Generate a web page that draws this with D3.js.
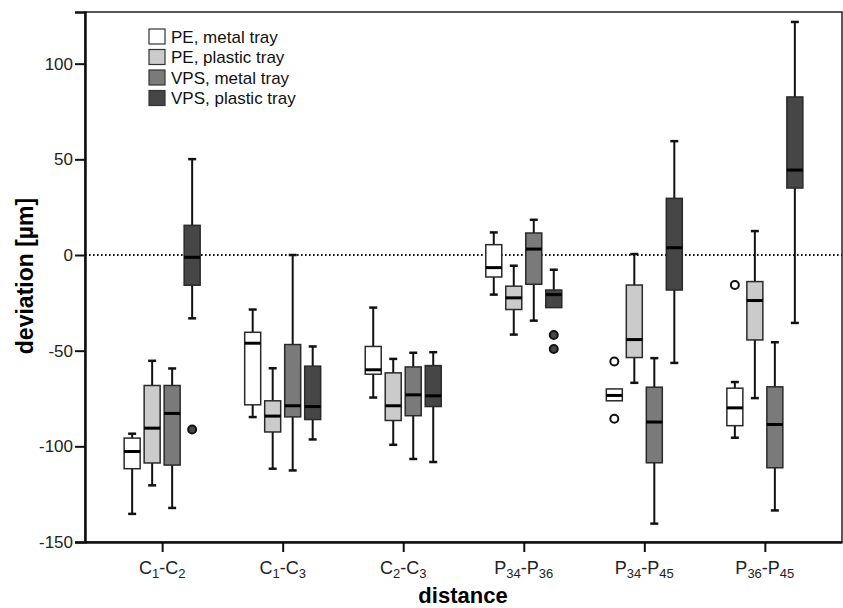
<!DOCTYPE html>
<html>
<head>
<meta charset="utf-8">
<script src="https://cdn.jsdelivr.net/npm/d3@7"></script>
<style>
body { margin: 0; background: #fff; }
text { font-family: Arial, "Liberation Sans", sans-serif; }
</style>
</head>
<body>
<svg width="843" height="608"></svg>
<script>
var svg = d3.select('svg');

// categories on the x axis, label parts: [main, sub, main, sub]
var categories = ["C1-C2", "C1-C3", "C2-C3", "P34-P36", "P34-P45", "P36-P45"];
var tickLabels = [["C","1","C","2"], ["C","1","C","3"], ["C","2","C","3"],
                  ["P","34","P","36"], ["P","34","P","45"], ["P","36","P","45"]];

var seriesNames = ["PE, metal tray", "PE, plastic tray", "VPS, metal tray", "VPS, plastic tray"];
var seriesColors = ["#ffffff", "#cbcbcb", "#7a7a7a", "#464646"];

// [lower whisker, q1, median, q3, upper whisker] per category
var peMetal = [
    [-135.3, -111.7, -102.7, -95.7, -93.4],
    [-84.7, -78.3, -46.1, -40.4, -28.5],
    [-74.5, -62.3, -60.0, -47.8, -27.5],
    [-20.7, -11.5, -6.6, 5.4, 11.8],
    [-76.2, -76.2, -73.4, -70.0, -70.0],
    [-95.5, -89.2, -79.9, -69.6, -66.4]
];
var pePlastic = [
    [-120.4, -108.7, -90.5, -68.2, -55.3],
    [-111.7, -92.5, -84.2, -76.2, -59.2],
    [-99.2, -86.5, -78.8, -61.6, -54.3],
    [-41.6, -28.5, -22.4, -16.3, -5.6],
    [-66.8, -53.6, -44.2, -15.7, 0.5],
    [-74.8, -44.4, -23.8, -13.9, 12.5]
];
var vpsMetal = [
    [-132.2, -109.8, -82.8, -68.2, -59.3],
    [-112.6, -84.6, -78.8, -46.8, 0],
    [-106.6, -84.0, -73.1, -58.5, -51.1],
    [-34.3, -15.3, 3.1, 11.5, 18.4],
    [-140.4, -108.6, -87.3, -69.1, -53.9],
    [-133.5, -111.2, -88.6, -68.9, -45.6]
];
var vpsPlastic = [
    [-33.1, -15.8, -1.2, 15.5, 50.1],
    [-96.4, -86.0, -79.2, -58.1, -47.8],
    [-108.2, -79.2, -73.6, -57.8, -50.8],
    [-27.5, -27.5, -20.7, -18.3, -7.7],
    [-56.4, -18.3, 3.8, 29.6, 59.5],
    [-35.5, 35.0, 44.4, 82.6, 121.8]
];

// outliers: [category index, value]
var peMetalOut = [[4, -55.7], [4, -85.6], [5, -15.7]];
var pePlasticOut = [];
var vpsMetalOut = [];
var vpsPlasticOut = [[0, -91.2], [3, -41.8], [3, -49.1]];

var yTicks = [-150, -100, -50, 0, 50, 100];

var allStats = [peMetal, pePlastic, vpsMetal, vpsPlastic];
var allOut = [peMetalOut, pePlasticOut, vpsMetalOut, vpsPlasticOut];

var plotLeft = 85, plotRight = 842, plotTop = 12, plotBottom = 542;

var x = d3.scalePoint().domain(categories).range([plotLeft, plotRight]).padding(0.64);
var y = d3.scaleLinear().domain([-150, 127]).range([plotBottom, plotTop]);
var offset = d3.scaleBand().domain(d3.range(4)).range([-38, 38]).paddingInner(0.2);
var bw = offset.bandwidth();

// frame
svg.append('rect')
    .attr('x', plotLeft).attr('y', plotTop)
    .attr('width', plotRight - plotLeft).attr('height', plotBottom - plotTop)
    .attr('fill', 'none').attr('stroke', '#222').attr('stroke-width', 1.5);

// zero reference line
svg.append('line')
    .attr('x1', plotLeft).attr('x2', plotRight)
    .attr('y1', y(0)).attr('y2', y(0))
    .attr('stroke', '#111').attr('stroke-width', 2)
    .attr('stroke-dasharray', '1.6,2.4');

// y axis (plain hyphen for negatives, like the original)
var yAxis = svg.append('g')
    .attr('transform', 'translate(' + plotLeft + ',0)')
    .call(d3.axisLeft(y).tickValues(yTicks).tickSize(10).tickPadding(2)
        .tickFormat(function(d){ return String(d); }));
yAxis.select('.domain').attr('stroke', '#111').attr('stroke-width', 2.5);
yAxis.selectAll('.tick line').attr('stroke', '#111').attr('stroke-width', 2);
yAxis.selectAll('.tick text')
    .style('font-size', '17px').attr('fill', '#222')
    .style('font-family', 'Arial, "Liberation Sans", sans-serif');

// x axis
var xAxis = svg.append('g')
    .attr('transform', 'translate(0,' + plotBottom + ')')
    .call(d3.axisBottom(x).tickSize(10).tickSizeOuter(0).tickFormat(''));
xAxis.select('.domain').attr('stroke', '#111').attr('stroke-width', 2.5);
xAxis.selectAll('.tick line').attr('stroke', '#111').attr('stroke-width', 2);

// x tick labels with subscripts
categories.forEach(function(c, i){
    var parts = tickLabels[i];
    var t = svg.append('text')
        .attr('x', x(c)).attr('y', 574)
        .attr('text-anchor', 'middle')
        .attr('fill', '#222')
        .style('font-size', '18px');
    t.append('tspan').text(parts[0]);
    t.append('tspan').text(parts[1]).style('font-size', '13px').attr('dy', 4);
    t.append('tspan').text('-').attr('dy', -4);
    t.append('tspan').text(parts[2]);
    t.append('tspan').text(parts[3]).style('font-size', '13px').attr('dy', 4);
});

// axis titles
svg.append('text')
    .text('distance')
    .attr('x', 463).attr('y', 603)
    .attr('text-anchor', 'middle')
    .style('font-size', '22px').style('font-weight', 'bold');

svg.append('text')
    .text('deviation [µm]')
    .attr('transform', 'translate(33,276)rotate(-90)')
    .attr('text-anchor', 'middle')
    .style('font-size', '23px').style('font-weight', 'bold');

// boxes
allStats.forEach(function(stats, s){
    var g = svg.append('g');
    stats.forEach(function(d, i){
        var cx = x(categories[i]) + offset(s) + bw / 2;
        // whiskers
        if (d[0] < d[1]) {
            g.append('line').attr('x1', cx).attr('x2', cx)
                .attr('y1', y(d[1])).attr('y2', y(d[0]))
                .attr('stroke', '#111').attr('stroke-width', 2);
            g.append('line').attr('x1', cx - 4).attr('x2', cx + 4)
                .attr('y1', y(d[0])).attr('y2', y(d[0]))
                .attr('stroke', '#111').attr('stroke-width', 2.5);
        }
        if (d[4] > d[3]) {
            g.append('line').attr('x1', cx).attr('x2', cx)
                .attr('y1', y(d[3])).attr('y2', y(d[4]))
                .attr('stroke', '#111').attr('stroke-width', 2);
            g.append('line').attr('x1', cx - 4).attr('x2', cx + 4)
                .attr('y1', y(d[4])).attr('y2', y(d[4]))
                .attr('stroke', '#111').attr('stroke-width', 2.5);
        }
        g.append('rect')
            .attr('x', cx - bw / 2).attr('y', y(d[3]))
            .attr('width', bw).attr('height', y(d[1]) - y(d[3]))
            .attr('fill', seriesColors[s])
            .attr('stroke', '#2a2a2a').attr('stroke-width', 1.5);
        g.append('line').attr('x1', cx - bw / 2).attr('x2', cx + bw / 2)
            .attr('y1', y(d[2])).attr('y2', y(d[2]))
            .attr('stroke', '#000').attr('stroke-width', 3);
    });
    allOut[s].forEach(function(o){
        var cx = x(categories[o[0]]) + offset(s) + bw / 2;
        g.append('circle')
            .attr('cx', cx).attr('cy', y(o[1])).attr('r', 4)
            .attr('fill', s === 0 ? '#fff' : seriesColors[s])
            .attr('stroke', '#111').attr('stroke-width', 2);
    });
});

// legend
var legend = svg.append('g').attr('transform', 'translate(149,29)');
seriesNames.forEach(function(name, i){
    var row = legend.append('g').attr('transform', 'translate(0,' + (i * 20.5) + ')');
    row.append('rect')
        .attr('x', 0).attr('y', 0).attr('width', 16).attr('height', 15)
        .attr('fill', seriesColors[i])
        .attr('stroke', '#333').attr('stroke-width', 1.2);
    row.append('text')
        .text(name)
        .attr('x', 22).attr('y', 13.5)
        .attr('fill', '#111')
        .style('font-size', '17px');
});
</script>
</body>
</html>
